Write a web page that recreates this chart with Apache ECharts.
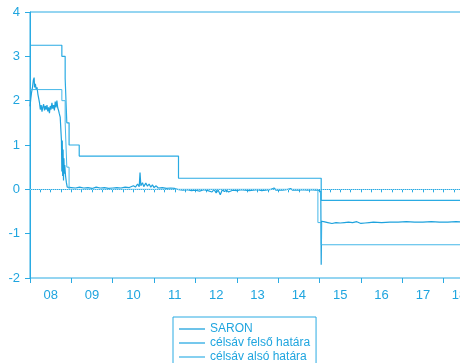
<!DOCTYPE html>
<html><head><meta charset="utf-8">
<script src="https://cdn.jsdelivr.net/npm/echarts@6/dist/echarts.min.js"></script>
<style>html,body{margin:0;padding:0;background:#fff}#c{width:460px;height:363px}</style>
</head><body><div id="c"></div>
<script>
// SARON (decimal year, %)
const saronDates = [2008.00,2008.02,2008.04,2008.06,2008.08,2008.10,2008.11,2008.13,2008.15,2008.17,2008.19,2008.21,2008.23,2008.25,2008.27,2008.29,2008.31,2008.33,2008.35,2008.37,2008.39,2008.41,2008.43,2008.45,2008.47,2008.49,2008.51,2008.53,2008.55,2008.57,2008.59,2008.61,2008.63,2008.65,2008.67,2008.69,2008.71,2008.73,2008.76,2008.77,2008.78,2008.79,2008.80,2008.81,2008.82,2008.83,2008.84,2008.86,2008.88,2008.90,2008.93,
2009.0,2009.1,2009.2,2009.3,2009.4,2009.5,2009.6,2009.7,2009.8,2009.9,2010.0,2010.1,2010.2,2010.3,2010.4,2010.5,2010.55,2010.6,2010.64,2010.66,2010.68,2010.72,2010.75,2010.8,2010.84,2010.88,2010.92,2010.96,2011.0,2011.05,2011.1,2011.2,2011.3,2011.4,2011.5,2011.6,2011.7,2011.8,2011.9,
2012.0,2012.1,2012.2,2012.3,2012.4,2012.45,2012.5,2012.55,2012.6,2012.65,2012.7,2012.75,2012.8,2012.9,2013.0,2013.1,2013.2,2013.3,2013.4,2013.5,2013.6,2013.7,2013.8,2013.9,2013.95,2014.1,2014.2,2014.3,2014.35,2014.5,2014.6,2014.7,2014.8,2014.9,2014.97,2015.03,2015.04,2015.05,
2015.1,2015.2,2015.3,2015.4,2015.5,2015.6,2015.7,2015.8,2015.9,2016.0,2016.1,2016.2,2016.3,2016.5,2016.7,2016.9,2017.1,2017.3,2017.5,2017.7,2017.9,2018.1,2018.3,2018.5,2018.8];
const saronValues = [1.87,2.05,2.2,2.3,2.46,2.52,2.3,2.38,2.25,2.3,2.15,2.05,1.95,1.8,1.9,1.75,1.86,1.92,1.78,1.88,1.8,1.9,1.76,1.85,1.72,1.88,1.8,1.95,1.82,1.9,1.78,1.98,1.85,2.0,1.84,1.78,1.7,1.63,1.1,0.4,1.1,0.3,0.9,0.2,0.7,0.35,0.55,0.3,0.15,0.05,0.03,
0.04,0.03,0.05,0.03,0.04,0.02,0.05,0.03,0.04,0.02,0.03,0.04,0.03,0.05,0.04,0.08,0.05,0.12,0.06,0.38,0.08,0.15,0.06,0.14,0.07,0.12,0.05,0.1,0.04,0.08,0.03,0.04,0.02,0.03,0.02,-0.01,-0.02,-0.01,-0.03,
-0.02,-0.04,-0.01,-0.03,-0.06,0.0,-0.08,-0.02,-0.12,-0.01,-0.05,-0.02,-0.06,-0.02,-0.03,-0.01,-0.02,-0.03,-0.02,-0.01,-0.03,-0.02,-0.01,0.03,-0.02,-0.02,-0.01,0.02,-0.02,-0.02,-0.01,-0.02,-0.01,-0.02,-0.02,-0.05,-1.7,-0.72,
-0.73,-0.75,-0.77,-0.75,-0.76,-0.75,-0.74,-0.75,-0.73,-0.77,-0.76,-0.75,-0.74,-0.75,-0.74,-0.74,-0.73,-0.74,-0.74,-0.73,-0.74,-0.74,-0.73,-0.74,-0.74];
// target range upper bound (change dates)
const upperDates = [2008.0,2008.77,2008.85,2008.89,2008.945,2009.19,2011.59,2015.04,2018.8];
const upperValues = [3.25,3.0,2.5,1.5,1.0,0.75,0.25,-0.25,-0.25];
// target range lower bound
const lowerDates = [2008.0,2008.77,2008.85,2008.89,2008.945,2014.96,2015.04,2018.8];
const lowerValues = [2.25,2.0,1.5,0.5,0.0,-0.75,-1.25,-1.25];
const seriesNames = ['SARON','célsáv felső határa','célsáv alsó határa'];
// x tick labels and where they sit (last year is partial)
const xLabels = ['08','09','10','11','12','13','14','15','16','17','18'];
const xLabelPos = [2008.5,2009.5,2010.5,2011.5,2012.5,2013.5,2014.5,2015.5,2016.5,2017.5,2018.37];
const yTicks = [-2,-1,0,1,2,3,4];

const C = '#2aabe3', T = '#1fa5df';
const zip = (a,b) => a.map((d,i)=>[d,b[i]]);
const quarterTicks = [];
for (let v = 2008; v <= 2019; v += 0.25) quarterTicks.push(v);
const chart = echarts.init(document.getElementById('c'));
chart.setOption({
  animation:false,
  textStyle:{fontFamily:'Liberation Sans, Arial, sans-serif'},
  grid:{left:30,top:12,right:-25,bottom:85,outerBoundsMode:'none',containLabel:false,show:true,borderColor:C,borderWidth:1,backgroundColor:'transparent'},
  legend:{orient:'vertical',left:173,top:317,height:80,icon:'rect',itemWidth:26,itemHeight:1.3,itemGap:2,padding:[6,6,6,6],
    borderColor:C,borderWidth:1,data:seriesNames,textStyle:{color:T,fontSize:12}},
  xAxis:[
    {type:'value',min:2008,max:2019,position:'bottom',
     axisLine:{lineStyle:{color:C}},axisTick:{length:3,lineStyle:{color:C},customValues:quarterTicks},splitLine:{show:false},
     axisLabel:{color:T,fontSize:13,margin:11,customValues:xLabelPos,formatter:v=>{const i=xLabelPos.findIndex(p=>Math.abs(p-v)<1e-6);return i>=0?xLabels[i]:'';}}},
    {type:'value',min:2008,max:2019,interval:1,position:'bottom',
     axisLine:{show:false},axisTick:{length:5,lineStyle:{color:C}},splitLine:{show:false},axisLabel:{show:false}}
  ],
  yAxis:{type:'value',min:yTicks[0],max:yTicks[yTicks.length-1],interval:1,
    axisLine:{show:true,lineStyle:{color:C}},axisTick:{show:true,length:5,lineStyle:{color:C}},splitLine:{show:false},
    axisLabel:{color:T,fontSize:13,margin:10}},
  series:[
    {name:seriesNames[0],type:'line',data:zip(saronDates,saronValues),symbol:'none',lineStyle:{color:'#1ea2dd',width:1.2},itemStyle:{color:'#1ea2dd'},
     markLine:{silent:true,symbol:'none',label:{show:false},lineStyle:{color:'#9bd6f1',type:'dotted',width:1},data:[{yAxis:0}]}},
    {name:seriesNames[1],type:'line',step:'end',data:zip(upperDates,upperValues),symbol:'none',lineStyle:{color:C,width:1.2},itemStyle:{color:C}},
    {name:seriesNames[2],type:'line',step:'end',data:zip(lowerDates,lowerValues),symbol:'none',lineStyle:{color:'#45b7e8',width:1},itemStyle:{color:'#45b7e8'}}
  ]
});
</script></body></html>
